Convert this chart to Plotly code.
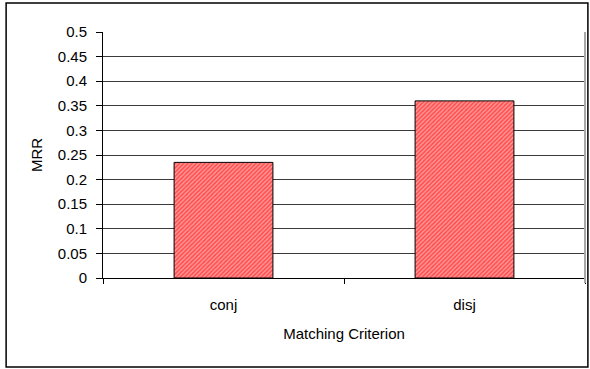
import plotly.graph_objects as go

# Mean reciprocal rank per matching criterion
criteria = ["conj", "disj"]
mrr_values = [0.235, 0.36]
y_ticks = [0, 0.05, 0.1, 0.15, 0.2, 0.25, 0.3, 0.35, 0.4, 0.45, 0.5]

FONT = "Liberation Sans, Arial, sans-serif"

fig = go.Figure(
    go.Bar(
        x=criteria,
        y=mrr_values,
        marker=dict(
            color="white",
            line=dict(color="black", width=1),
            pattern=dict(shape="/", fgcolor="#ff0000", bgcolor="#ff9c9c",
                         size=3, solidity=0.55),
        ),
        showlegend=False,
    )
)

fig.update_layout(
    width=590,
    height=369,
    margin=dict(l=103, r=5, t=32, b=91),
    paper_bgcolor="white",
    plot_bgcolor="white",
    bargap=0.59,
    font=dict(family=FONT, size=15, color="black"),
    xaxis=dict(
        title=dict(text="Matching Criterion", font=dict(size=15), standoff=16),
        showline=True,
        linecolor="black",
        linewidth=1,
        ticks="outside",
        tickson="boundaries",
        ticklen=5,
        tickcolor="black",
        ticklabelstandoff=13,
        showgrid=False,
    ),
    yaxis=dict(
        title=dict(text="MRR", font=dict(size=15), standoff=11),
        range=[0, 0.5],
        tickvals=y_ticks,
        ticktext=[f"{v:g}" for v in y_ticks],
        showline=True,
        linecolor="black",
        linewidth=1,
        ticks="outside",
        ticklen=6,
        tickcolor="black",
        ticklabelstandoff=6,
        showgrid=True,
        gridcolor="#3a3a3a",
        gridwidth=1,
        zeroline=False,
    ),
    shapes=[
        # grey right-hand edge of the plotting area
        dict(type="line", xref="paper", yref="paper", x0=1, x1=1, y0=-0.02, y1=1,
             line=dict(color="#a8a8a8", width=2)),
        # outer chart frame
        dict(type="rect", xref="paper", yref="paper", x0=-0.201, x1=1.006,
             y0=-0.362, y1=1.118, line=dict(color="black", width=1.5),
             fillcolor="rgba(0,0,0,0)", layer="below"),
    ],
)

fig.write_html("out.html")
